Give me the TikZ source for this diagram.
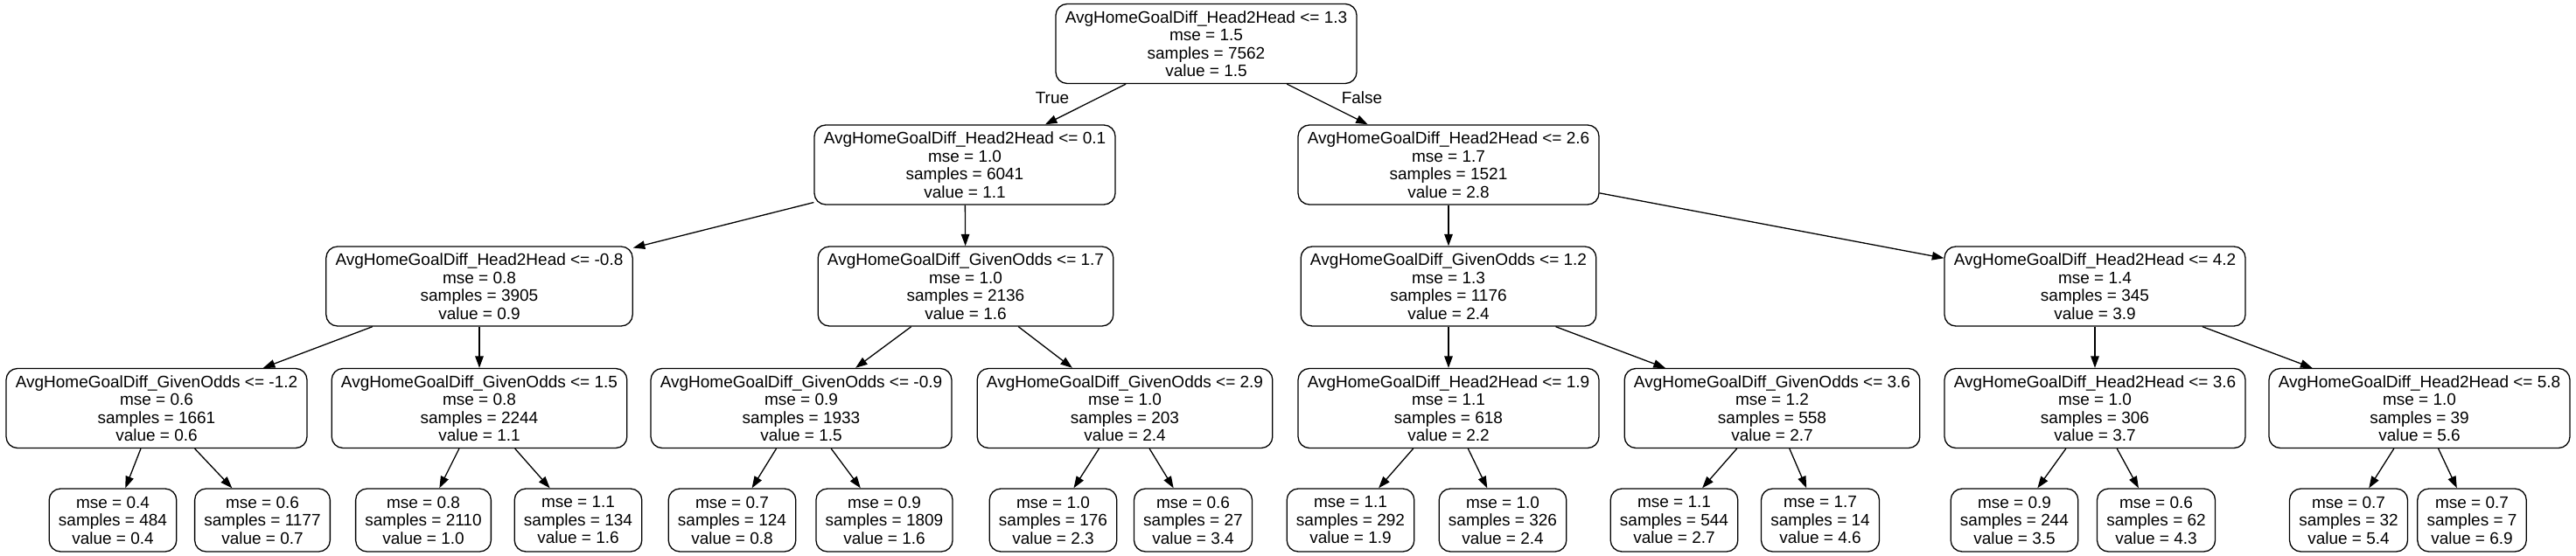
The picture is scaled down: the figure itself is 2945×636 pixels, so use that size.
\documentclass[tikz,border=0pt]{standalone}
\usepackage{fontspec}
\setmainfont{Liberation Sans}
\usetikzlibrary{arrows.meta}

\begin{document}
\begin{tikzpicture}[x=1pt, y=-1pt,
  split/.style={draw, rounded corners=13pt, line width=1.3pt, align=center, minimum height=91pt, inner xsep=10.75pt, inner ysep=2pt, font=\fontsize{19}{20.5}\selectfont},
  leaf/.style={draw, rounded corners=13pt, line width=1.3pt, align=center, minimum height=72pt, inner xsep=10.75pt, inner ysep=2pt, font=\fontsize{19}{20.5}\selectfont},
  link/.style={-{Triangle[length=13.5pt, width=9.5pt]}, line width=1.3pt}]
  \useasboundingbox (0,0) rectangle (2945,636);
  % level 0 and 1
  \node[split] (s0) at (1379,50) {AvgHomeGoalDiff\_Head2Head <= 1.3\\mse = 1.5\\samples = 7562\\value = 1.5};
  \node[split] (s1) at (1103,188.5) {AvgHomeGoalDiff\_Head2Head <= 0.1\\mse = 1.0\\samples = 6041\\value = 1.1};
  \node[split] (s2) at (1656,188.5) {AvgHomeGoalDiff\_Head2Head <= 2.6\\mse = 1.7\\samples = 1521\\value = 2.8};
  % level 2
  \node[split] (s3) at (548,327.5) {AvgHomeGoalDiff\_Head2Head <= -0.8\\mse = 0.8\\samples = 3905\\value = 0.9};
  \node[split] (s4) at (1104,327.5) {AvgHomeGoalDiff\_GivenOdds <= 1.7\\mse = 1.0\\samples = 2136\\value = 1.6};
  \node[split] (s5) at (1656,327.5) {AvgHomeGoalDiff\_GivenOdds <= 1.2\\mse = 1.3\\samples = 1176\\value = 2.4};
  \node[split] (s6) at (2395,327.5) {AvgHomeGoalDiff\_Head2Head <= 4.2\\mse = 1.4\\samples = 345\\value = 3.9};
  % level 3
  \node[split] (s7) at (179,467) {AvgHomeGoalDiff\_GivenOdds <= -1.2\\mse = 0.6\\samples = 1661\\value = 0.6};
  \node[split] (s8) at (548,467) {AvgHomeGoalDiff\_GivenOdds <= 1.5\\mse = 0.8\\samples = 2244\\value = 1.1};
  \node[split] (s9) at (916,467) {AvgHomeGoalDiff\_GivenOdds <= -0.9\\mse = 0.9\\samples = 1933\\value = 1.5};
  \node[split] (s10) at (1286,467) {AvgHomeGoalDiff\_GivenOdds <= 2.9\\mse = 1.0\\samples = 203\\value = 2.4};
  \node[split] (s11) at (1656,467) {AvgHomeGoalDiff\_Head2Head <= 1.9\\mse = 1.1\\samples = 618\\value = 2.2};
  \node[split] (s12) at (2026,467) {AvgHomeGoalDiff\_GivenOdds <= 3.6\\mse = 1.2\\samples = 558\\value = 2.7};
  \node[split] (s13) at (2395,467) {AvgHomeGoalDiff\_Head2Head <= 3.6\\mse = 1.0\\samples = 306\\value = 3.7};
  \node[split] (s14) at (2766,467) {AvgHomeGoalDiff\_Head2Head <= 5.8\\mse = 1.0\\samples = 39\\value = 5.6};
  % leaves
  \node[leaf] (leaf1) at (129,595) {mse = 0.4\\samples = 484\\value = 0.4};
  \node[leaf] (leaf2) at (300,595) {mse = 0.6\\samples = 1177\\value = 0.7};
  \node[leaf] (leaf3) at (484,595) {mse = 0.8\\samples = 2110\\value = 1.0};
  \node[leaf] (leaf4) at (661,595) {mse = 1.1\\samples = 134\\value = 1.6};
  \node[leaf] (leaf5) at (837,595) {mse = 0.7\\samples = 124\\value = 0.8};
  \node[leaf] (leaf6) at (1011,595) {mse = 0.9\\samples = 1809\\value = 1.6};
  \node[leaf] (leaf7) at (1204,595) {mse = 1.0\\samples = 176\\value = 2.3};
  \node[leaf] (leaf8) at (1364,595) {mse = 0.6\\samples = 27\\value = 3.4};
  \node[leaf] (leaf9) at (1544,595) {mse = 1.1\\samples = 292\\value = 1.9};
  \node[leaf] (leaf10) at (1718,595) {mse = 1.0\\samples = 326\\value = 2.4};
  \node[leaf] (leaf11) at (1914,595) {mse = 1.1\\samples = 544\\value = 2.7};
  \node[leaf] (leaf12) at (2081,595) {mse = 1.7\\samples = 14\\value = 4.6};
  \node[leaf] (leaf13) at (2303,595) {mse = 0.9\\samples = 244\\value = 3.5};
  \node[leaf] (leaf14) at (2465,595) {mse = 0.6\\samples = 62\\value = 4.3};
  \node[leaf] (leaf15) at (2685,595) {mse = 0.7\\samples = 32\\value = 5.4};
  \node[leaf] (leaf16) at (2826,595) {mse = 0.7\\samples = 7\\value = 6.9};
  % edges
  \draw[link] (s0) -- (s1);
  \draw[link] (s0) -- (s2);
  \draw[link] (s1) -- (s3);
  \draw[link] (s1) -- (s4);
  \draw[link] (s2) -- (s5);
  \draw[link] (s2) -- (s6);
  \draw[link] (s3) -- (s7);
  \draw[link] (s3) -- (s8);
  \draw[link] (s4) -- (s9);
  \draw[link] (s4) -- (s10);
  \draw[link] (s5) -- (s11);
  \draw[link] (s5) -- (s12);
  \draw[link] (s6) -- (s13);
  \draw[link] (s6) -- (s14);
  \draw[link] (s7) -- (leaf1);
  \draw[link] (s7) -- (leaf2);
  \draw[link] (s8) -- (leaf3);
  \draw[link] (s8) -- (leaf4);
  \draw[link] (s9) -- (leaf5);
  \draw[link] (s9) -- (leaf6);
  \draw[link] (s10) -- (leaf7);
  \draw[link] (s10) -- (leaf8);
  \draw[link] (s11) -- (leaf9);
  \draw[link] (s11) -- (leaf10);
  \draw[link] (s12) -- (leaf11);
  \draw[link] (s12) -- (leaf12);
  \draw[link] (s13) -- (leaf13);
  \draw[link] (s13) -- (leaf14);
  \draw[link] (s14) -- (leaf15);
  \draw[link] (s14) -- (leaf16);
  % branch labels
  \node[font=\fontsize{19}{20.5}\selectfont] (truelbl) at (1203,112) {True};
  \node[font=\fontsize{19}{20.5}\selectfont] (falselbl) at (1557,112) {False};
\end{tikzpicture}
\end{document}
